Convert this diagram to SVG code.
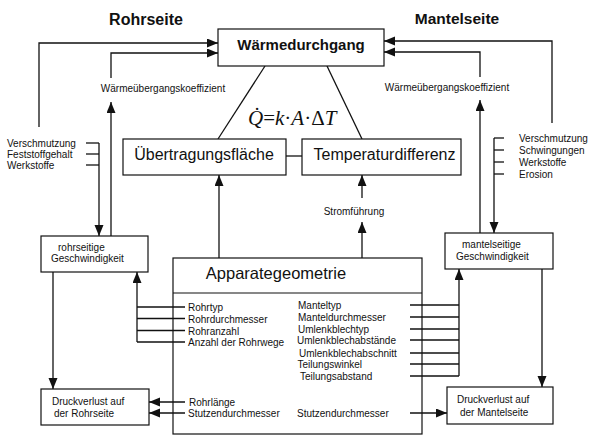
<svg xmlns="http://www.w3.org/2000/svg" width="596" height="445" viewBox="0 0 596 445">
<defs>
<marker id="ah" markerUnits="userSpaceOnUse" markerWidth="12" markerHeight="10" refX="11" refY="4.5" orient="auto">
<path d="M0,0 L11,4.5 L0,9 z" fill="#111"/>
</marker>
<style>
.box{fill:#fff;stroke:#111;stroke-width:1.2}
.ln{fill:none;stroke:#111;stroke-width:1.3}
.ar{fill:none;stroke:#111;stroke-width:1.3;marker-end:url(#ah)}
.s{font-family:"Liberation Sans",Arial,sans-serif;font-size:10px;fill:#111}
.m{font-family:"Liberation Sans",Arial,sans-serif;font-size:16px;fill:#111}
.b{font-family:"Liberation Sans",Arial,sans-serif;font-weight:bold;fill:#111}
</style>
</defs>
<rect width="596" height="445" fill="#fff"/>

<text class="b" x="146" y="25" font-size="16" text-anchor="middle">Rohrseite</text>
<text class="b" x="457" y="24" font-size="15.5" text-anchor="middle">Mantelseite</text>

<g id="connectors">
<polyline class="ar" points="39,127 39,43 218,43"/>
<polyline class="ar" points="111,78 111,53 218,53"/>
<line class="ar" x1="111" y1="236" x2="111" y2="102"/>
<polyline class="ar" points="552,123 552,41 384,41"/>
<polyline class="ar" points="480,77 480,52 384,52"/>
<line class="ar" x1="480" y1="233" x2="480" y2="100"/>
<line class="ln" x1="265" y1="66" x2="218" y2="139"/>
<line class="ln" x1="327" y1="66" x2="362" y2="139"/>
<line class="ln" x1="286" y1="156" x2="302" y2="156"/>
<line class="ar" x1="219" y1="258" x2="219" y2="175"/>
<line class="ar" x1="362" y1="198" x2="362" y2="175"/>
<line class="ar" x1="362" y1="258" x2="362" y2="222"/>
<line class="ln" x1="86" y1="143" x2="99" y2="143"/>
<line class="ln" x1="86" y1="154" x2="99" y2="154"/>
<line class="ln" x1="86" y1="165" x2="99" y2="165"/>
<line class="ar" x1="99" y1="143" x2="99" y2="236"/>
<line class="ln" x1="494" y1="138" x2="504" y2="138"/>
<line class="ln" x1="494" y1="150" x2="504" y2="150"/>
<line class="ln" x1="494" y1="162" x2="504" y2="162"/>
<line class="ln" x1="494" y1="174" x2="504" y2="174"/>
<line class="ar" x1="494" y1="138" x2="494" y2="233"/>
<line class="ar" x1="53" y1="272" x2="53" y2="389"/>
<line class="ln" x1="137" y1="307" x2="185" y2="307"/>
<line class="ln" x1="137" y1="318.5" x2="185" y2="318.5"/>
<line class="ln" x1="137" y1="330.5" x2="185" y2="330.5"/>
<line class="ln" x1="137" y1="342" x2="185" y2="342"/>
<line class="ar" x1="137" y1="342" x2="137" y2="272"/>
<line class="ar" x1="185" y1="402" x2="149" y2="402"/>
<line class="ar" x1="185" y1="413" x2="149" y2="413"/>
<line class="ar" x1="542" y1="269" x2="542" y2="387"/>
<line class="ln" x1="410" y1="305" x2="459" y2="305"/>
<line class="ln" x1="410" y1="317" x2="459" y2="317"/>
<line class="ln" x1="410" y1="329" x2="459" y2="329"/>
<line class="ln" x1="410" y1="340" x2="459" y2="340"/>
<line class="ln" x1="410" y1="353" x2="459" y2="353"/>
<line class="ln" x1="410" y1="364" x2="459" y2="364"/>
<line class="ln" x1="410" y1="376" x2="459" y2="376"/>
<line class="ar" x1="459" y1="376" x2="459" y2="269"/>
<line class="ar" x1="410" y1="413" x2="447" y2="413"/>
</g>

<text class="s" x="163" y="91.5" text-anchor="middle">Wärmeübergangskoeffizient</text>
<text class="s" x="447" y="90.5" text-anchor="middle">Wärmeübergangskoeffizient</text>
<text class="s" x="7" y="146.5">Verschmutzung</text>
<text class="s" x="7" y="157.5">Feststoffgehalt</text>
<text class="s" x="7" y="169">Werkstoffe</text>
<text class="s" x="519" y="141.5">Verschmutzung</text>
<text class="s" x="519" y="153.5">Schwingungen</text>
<text class="s" x="519" y="165.5">Werkstoffe</text>
<text class="s" x="519" y="177.5">Erosion</text>
<text class="s" x="354" y="215" text-anchor="middle">Stromführung</text>

<text x="248" y="125" font-family="Liberation Serif,'Times New Roman',serif" font-size="21" fill="#111"><tspan font-style="italic">Q̇</tspan>=<tspan font-style="italic">k</tspan>·<tspan font-style="italic">A</tspan>·Δ<tspan font-style="italic">T</tspan></text>

<g id="waermedurchgang">
<rect class="box" x="218" y="29" width="166" height="37"/>
<text class="b" x="301" y="50" font-size="15" text-anchor="middle">Wärmedurchgang</text>
</g>
<g id="uebertragungsflaeche">
<rect class="box" x="123" y="139" width="163" height="36"/>
<text class="m" x="204" y="160" text-anchor="middle">Übertragungsfläche</text>
</g>
<g id="temperaturdifferenz">
<rect class="box" x="302" y="139" width="159" height="36"/>
<text class="m" x="384.5" y="160" text-anchor="middle">Temperaturdifferenz</text>
</g>
<g id="rohr-geschw">
<rect class="box" x="41" y="236" width="107" height="36"/>
<text class="s" x="58" y="250.5">rohrseitige</text>
<text class="s" x="51" y="261.5">Geschwindigkeit</text>
</g>
<g id="mantel-geschw">
<rect class="box" x="445" y="233" width="108" height="36"/>
<text class="s" x="462" y="248">mantelseitige</text>
<text class="s" x="456" y="259.5">Geschwindigkeit</text>
</g>
<g id="druck-rohr">
<rect class="box" x="41" y="389" width="108" height="36"/>
<text class="s" x="52" y="404.5">Druckverlust auf</text>
<text class="s" x="54" y="416.5">der Rohrseite</text>
</g>
<g id="druck-mantel">
<rect class="box" x="447" y="387" width="106" height="37"/>
<text class="s" x="457" y="403">Druckverlust auf</text>
<text class="s" x="460" y="415.5">der Mantelseite</text>
</g>
<g id="apparategeometrie">
<rect class="box" x="173" y="258" width="249" height="176" style="fill:none"/>
<line class="ln" x1="173" y1="293" x2="422" y2="293" style="stroke-width:1.1"/>
<text x="276" y="278.5" font-family="Liberation Sans,Arial,sans-serif" font-size="16.5" fill="#111" text-anchor="middle">Apparategeometrie</text>
<text class="s" x="188" y="311">Rohrtyp</text>
<text class="s" x="188" y="322.5">Rohrdurchmesser</text>
<text class="s" x="188" y="334.5">Rohranzahl</text>
<text class="s" x="188" y="346">Anzahl der Rohrwege</text>
<text class="s" x="189" y="406">Rohrlänge</text>
<text class="s" x="188" y="417">Stutzendurchmesser</text>
<text class="s" x="298" y="309">Manteltyp</text>
<text class="s" x="298" y="321">Manteldurchmesser</text>
<text class="s" x="298" y="333">Umlenkblechtyp</text>
<text class="s" x="297" y="344">Umlenkblechabstände</text>
<text class="s" x="299" y="357">Umlenkblechabschnitt</text>
<text class="s" x="297.5" y="368">Teilungswinkel</text>
<text class="s" x="300" y="380">Teilungsabstand</text>
<text class="s" x="297" y="417">Stutzendurchmesser</text>
</g>
</svg>
